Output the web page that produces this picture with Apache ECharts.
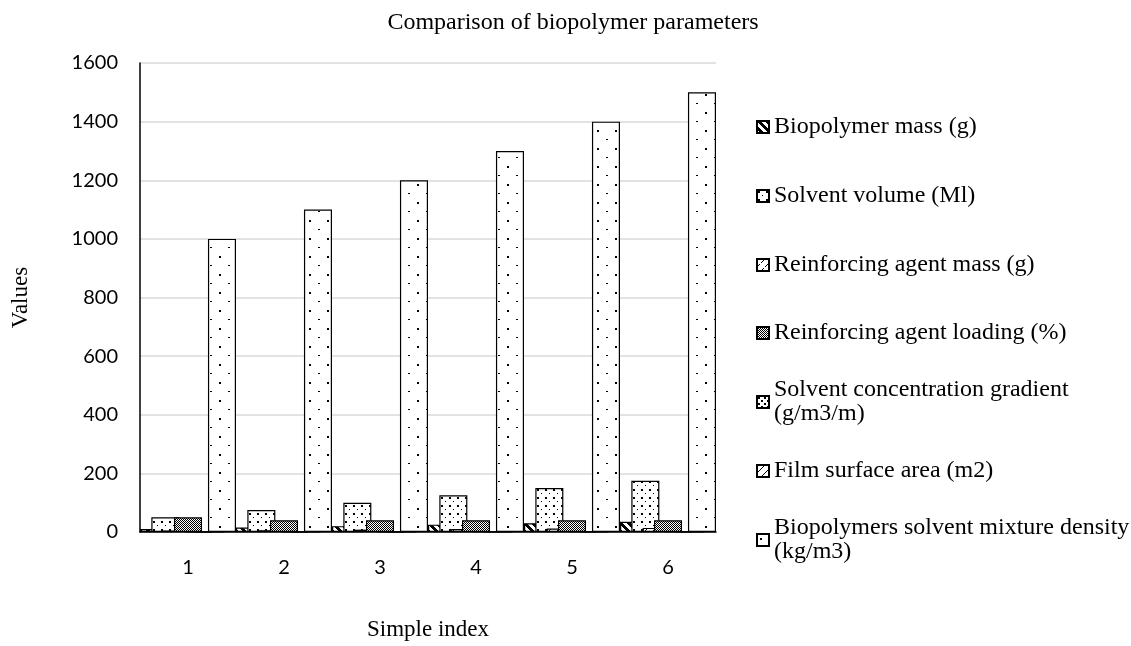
<!DOCTYPE html>
<html><head><meta charset="utf-8">
<script src="https://cdn.jsdelivr.net/npm/echarts@6/dist/echarts.min.js"></script>
<style>html,body{margin:0;padding:0;background:#fff}#c{width:1131px;height:646px}</style>
</head><body><div id="c"></div>
<script>
// ---- data ----
const categories = ['1', '2', '3', '4', '5', '6'];
const seriesNames = [
  'Biopolymer mass (g)',
  'Solvent volume (Ml)',
  'Reinforcing agent mass (g)',
  'Reinforcing agent loading (%)',
  'Solvent concentration gradient (g/m3/m)',
  'Film surface area (m2)',
  'Biopolymers solvent mixture density (kg/m3)'
];
const legendLabels = [
  'Biopolymer mass (g)',
  'Solvent volume (Ml)',
  'Reinforcing agent mass (g)',
  'Reinforcing agent loading (%)',
  'Solvent concentration gradient\n(g/m3/m)',
  'Film surface area (m2)',
  'Biopolymers solvent mixture density\n(kg/m3)'
];
const biopolymerMass = [10, 15, 20, 25, 30, 35];
const solventVolume = [50, 75, 100, 125, 150, 175];
const reinforcingMass = [5, 6, 8, 10, 12, 14];
const reinforcingLoading = [50, 40, 40, 40, 40, 40];
const concentrationGradient = [1, 1.2, 1.5, 1.8, 2, 2.2];
const filmArea = [0.5, 0.5, 0.6, 0.6, 0.7, 0.7];
const mixtureDensity = [1000, 1100, 1200, 1300, 1400, 1500];
const yTicks = { min: 0, max: 1600, interval: 200 };

// ---- patterns ----
function makePattern(size, draw) {
  const cv = document.createElement('canvas');
  cv.width = size; cv.height = size;
  const ctx = cv.getContext('2d');
  ctx.fillStyle = '#fff'; ctx.fillRect(0, 0, size, size);
  ctx.fillStyle = '#000'; ctx.strokeStyle = '#000';
  draw(ctx, size);
  return { image: cv, repeat: 'repeat' };
}
const pDownDiag = makePattern(8, (c, s) => {
  for (let y = 0; y < s; y++) for (let x = 0; x < s; x++) {
    if (((x - y) % s + s) % s < 4) c.fillRect(x, y, 1, 1);
  }
});
const pSparseDots = makePattern(8, (c) => { c.fillRect(1, 1, 2, 2); c.fillRect(5, 5, 1, 1); });
const pUpDiagDash = makePattern(8, (c, s) => {
  for (let i = 0; i < s; i++) { if (i % 4 !== 3) c.fillRect(i, s - 1 - i, 1, 1); }
});
const pChecker = makePattern(4, (c) => { c.fillRect(0, 0, 1, 1); c.fillRect(2, 0, 1, 1); c.fillRect(1, 1, 1, 1); c.fillRect(3, 1, 1, 1); c.fillRect(0, 2, 1, 1); c.fillRect(2, 2, 1, 1); c.fillRect(1, 3, 1, 1); c.fillRect(3, 3, 1, 1); });
const pDots = makePattern(6, (c) => { c.fillRect(1, 1, 2, 2); c.fillRect(4, 4, 2, 2); });
const pUpDiag = makePattern(8, (c, s) => {
  for (let i = 0; i < s; i++) c.fillRect(i, s - 1 - i, 1, 1);
});
const pDensity = makePattern(18, (c) => { c.fillRect(3, 4, 2, 2); c.fillRect(12, 13, 2, 1); });
const patterns = [pDownDiag, pSparseDots, pUpDiagDash, pChecker, pDots, pUpDiag, pDensity];
const dataSets = [biopolymerMass, solventVolume, reinforcingMass, reinforcingLoading, concentrationGradient, filmArea, mixtureDensity];

// ---- layout ----
const serif = 'Liberation Serif';
const legendCenters = [127, 196, 265, 333, 402, 471, 540];
const twoLine = legendLabels.map(l => l.indexOf('\n') >= 0);
const LH = 24;

const chart = echarts.init(document.getElementById('c'), null, { renderer: 'canvas' });
chart.setOption({
  backgroundColor: '#fff',
  animation: false,
  title: {
    text: 'Comparison of biopolymer parameters',
    left: 573, top: 11, textAlign: 'center', padding: 0,
    textStyle: { fontFamily: serif, fontSize: 24, fontWeight: 'normal', color: '#000' }
  },
  legend: seriesNames.map((n, i) => ({
    data: [n],
    left: 756,
    top: legendCenters[i] - (twoLine[i] ? LH * 1.5 : LH / 2),
    padding: 0,
    orient: 'vertical',
    itemWidth: 12, itemHeight: 12, itemGap: 0,
    selectedMode: false,
    icon: 'rect',
    formatter: () => legendLabels[i],
    textStyle: {
      fontFamily: serif, fontSize: 24, color: '#000', lineHeight: LH,
      padding: twoLine[i] ? [LH, 0, 0, 0] : 0
    }
  })),
  grid: { left: 140, right: 415, top: 63, bottom: 103, containLabel: false },
  xAxis: {
    type: 'category', data: categories,
    name: 'Simple index', nameLocation: 'middle', nameGap: 86,
    nameTextStyle: { fontFamily: serif, fontSize: 23, color: '#000' },
    axisLine: { lineStyle: { color: '#000', width: 1.5 } },
    axisTick: { show: false },
    axisLabel: { fontFamily: 'Lato', fontSize: 20, color: '#000', margin: 26 }
  },
  yAxis: {
    type: 'value', min: yTicks.min, max: yTicks.max, interval: yTicks.interval,
    name: 'Values', nameLocation: 'middle', nameGap: 108, nameRotate: 90,
    nameTextStyle: { fontFamily: serif, fontSize: 23, color: '#000' },
    axisLine: { show: true, lineStyle: { color: '#000', width: 1.5 } },
    axisTick: { show: false },
    splitLine: { lineStyle: { color: '#d9d9d9', width: 1.5 } },
    axisLabel: { fontFamily: 'Lato', fontSize: 20, color: '#000', margin: 22, formatter: v => String(v) }
  },
  series: seriesNames.map((n, i) => ({
    name: n, type: 'bar', data: dataSets[i],
    barGap: '-59.6%', barCategoryGap: '0%',
    itemStyle: { color: patterns[i], borderColor: '#000', borderWidth: 1.2 },
    emphasis: { disabled: true }
  }))
});
</script></body></html>
